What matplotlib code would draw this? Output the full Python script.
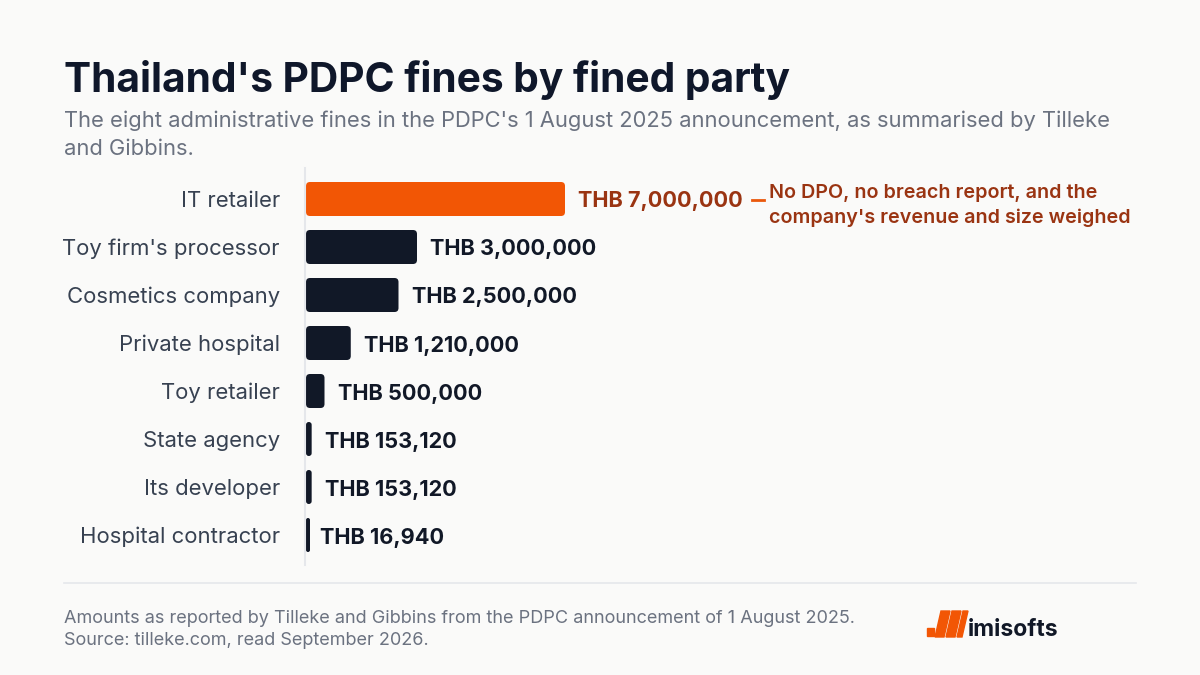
import matplotlib
matplotlib.use("Agg")
import matplotlib.pyplot as plt
from matplotlib.lines import Line2D
from matplotlib.patches import Polygon, Rectangle, FancyBboxPatch

plt.rcParams['font.family'] = ['Inter', 'DejaVu Sans']

categories = ["IT retailer", "Toy firm's processor", "Cosmetics company", "Private hospital",
              "Toy retailer", "State agency", "Its developer", "Hospital contractor"]
values = [7000000, 3000000, 2500000, 1210000, 500000, 153120, 153120, 16940]
value_labels = ["THB 7,000,000", "THB 3,000,000", "THB 2,500,000", "THB 1,210,000",
                "THB 500,000", "THB 153,120", "THB 153,120", "THB 16,940"]
highlight_index = 0
annotation_text = "No DPO, no breach report, and the\ncompany's revenue and size weighed"

title = "Thailand's PDPC fines by fined party"
subtitle = ("The eight administrative fines in the PDPC's 1 August 2025 announcement, as summarised by Tilleke\n"
            "and Gibbins.")
footer = ("Amounts as reported by Tilleke and Gibbins from the PDPC announcement of 1 August 2025.\n"
          "Source: tilleke.com, read September 2026.")
brand = "imisofts"

BG = "#fafaf9"
NAVY = "#111827"
ORANGE = "#f25605"
ANNOT = "#9a3412"
GRAY = "#6b7280"
LABEL = "#374151"

W, H = 1200, 675
fig = plt.figure(figsize=(12, 6.75), dpi=100, facecolor=BG)

def fx(px):
    return px / W

def fy(py):
    return 1 - py / H

# axes geometry (pixels)
x0_px, x1_px = 306, 1136
px_per_unit = 259 / 7e6
top_px, bot_px = 168, 565
row_px = 48
ax = fig.add_axes([fx(x0_px), fy(bot_px), fx(x1_px - x0_px), (bot_px - top_px) / H])
ax.set_facecolor("none")
ax.set_xlim(0, (x1_px - x0_px) / px_per_unit)
ax.set_ylim(7 + (bot_px - 535) / row_px, -(199 - top_px) / row_px)
for s in ax.spines.values():
    s.set_visible(False)
ax.set_xticks([])
ax.set_yticks([])

# axis line
fig.add_artist(Line2D([fx(305), fx(305)], [fy(top_px), fy(bot_px)], color="#e5e7eb", lw=1.5))

# rounded bars (minimum visible width of 4 px)
bar_h = 34 / row_px
ux = 1 / px_per_unit          # data units per pixel in x
uy = 1 / row_px               # data units per pixel in y
radius_px = 4
min_w = 4 * ux
for i, v in enumerate(values):
    c = ORANGE if i == highlight_index else NAVY
    w = max(v, min_w)
    r_px = min(radius_px, (w / ux) / 2)
    patch = FancyBboxPatch((0, i - bar_h / 2), w, bar_h,
                           boxstyle=f"round,pad=0,rounding_size={r_px * ux}",
                           mutation_aspect=uy / ux, facecolor=c, edgecolor='none', zorder=3)
    ax.add_patch(patch)

for i, (v, lab) in enumerate(zip(values, value_labels)):
    c = ANNOT if i == highlight_index else NAVY
    ax.annotate(lab, xy=(v, i), xytext=(13 * 0.72, -2.5 * 0.72), textcoords='offset points',
                ha='left', va='center', fontsize=15.6, fontweight='bold', color=c)
    ax.annotate(categories[i], xy=(0, i), xycoords=('axes fraction', 'data'),
                xytext=(-(x0_px - 280) * 0.72, -2 * 0.72), textcoords='offset points',
                ha='right', va='center', fontsize=15.9, color=LABEL)

# annotation
fig.add_artist(Line2D([fx(752), fx(764)], [fy(200), fy(200)], color="#ea580c", lw=2))
fig.text(fx(769), fy(223), annotation_text, ha='left', va='baseline', fontsize=14.2,
         fontweight='semibold', color=ANNOT, linespacing=1.47)

# title / subtitle
fig.text(fx(64), fy(92), title, ha='left', va='baseline', fontsize=29.3, fontweight='bold', color="#0f172a")
fig.text(fx(64), fy(155), subtitle, ha='left', va='baseline', fontsize=15.8, color=GRAY,
         linespacing=1.48)

# footer
fig.add_artist(Line2D([fx(64), fx(1136)], [fy(583), fy(583)], color="#e5e7eb", lw=1.2))
fig.text(fx(64), fy(645), footer, ha='left', va='baseline', fontsize=13.0, color=GRAY, linespacing=1.4)

# logo
fig.add_artist(Rectangle((fx(927), fy(636)), fx(7), 8 / H, color=ORANGE, transform=fig.transFigure))
for xl, w in [(935, 9), (946, 9), (957, 5)]:
    pts = [(fx(xl), fy(637)), (fx(xl + w), fy(637)), (fx(xl + w + 6), fy(611)), (fx(xl + 6), fy(611))]
    fig.add_artist(Polygon(pts, closed=True, color=ORANGE, transform=fig.transFigure))
fig.text(fx(968), fy(636), brand, ha='left', va='baseline', fontsize=16.5, fontweight='bold', color=NAVY)

fig.savefig("out.png", dpi=100, facecolor=BG)
